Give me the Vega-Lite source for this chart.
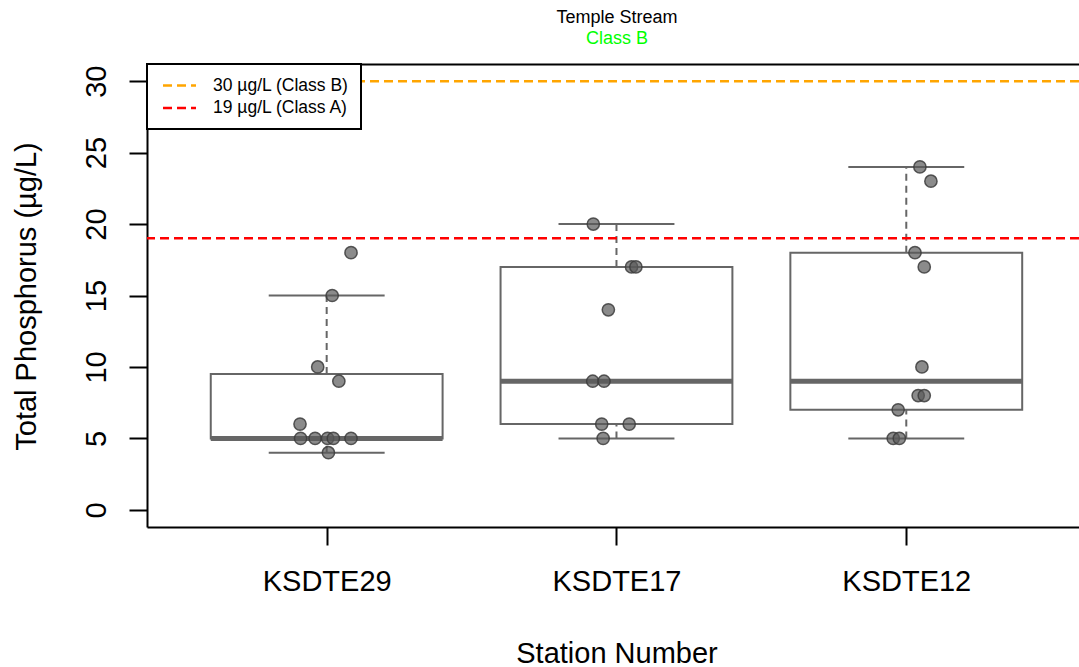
{
  "$schema": "https://vega.github.io/schema/vega-lite/v6.json",
  "width": 932,
  "height": 463,
  "autosize": {"type": "none"},
  "padding": {"left": 147, "top": 64, "right": 0, "bottom": 140},
  "background": "white",
  "config": {
    "view": {"stroke": null},
    "font": "Liberation Sans",
    "axis": {
      "domainColor": "black", "domainWidth": 2, "tickColor": "black", "tickWidth": 2, "tickSize": 18,
      "labelFont": "Liberation Sans", "labelFontSize": 29, "labelColor": "black",
      "titleFont": "Liberation Sans", "titleFontSize": 29, "titleFontWeight": "normal", "titleColor": "black",
      "grid": false
    },
    "legend": {"strokeWidth": 2}
  },
  "title": {
    "text": "Temple Stream", "subtitle": "Class B",
    "font": "Liberation Sans", "subtitleFont": "Liberation Sans",
    "fontSize": 18, "subtitleFontSize": 18, "fontWeight": "normal",
    "color": "black", "subtitleColor": "#00FF00",
    "anchor": "middle", "dx": 4, "offset": 15, "subtitlePadding": 3
  },
  "datasets": {
    "boxes": [
      {"station": "KSDTE29", "pos": 1, "lower": 4, "q1": 5, "median": 5, "q3": 9.5, "upper": 15},
      {"station": "KSDTE17", "pos": 2, "lower": 5, "q1": 6, "median": 9, "q3": 17, "upper": 20},
      {"station": "KSDTE12", "pos": 3, "lower": 5, "q1": 7, "median": 9, "q3": 18, "upper": 24}
    ],
    "points": [
      {"station": "KSDTE29", "jx": 1.084, "value": 18},
      {"station": "KSDTE29", "jx": 1.019, "value": 15},
      {"station": "KSDTE29", "jx": 0.969, "value": 10},
      {"station": "KSDTE29", "jx": 1.042, "value": 9},
      {"station": "KSDTE29", "jx": 0.908, "value": 6},
      {"station": "KSDTE29", "jx": 0.910, "value": 5},
      {"station": "KSDTE29", "jx": 0.960, "value": 5},
      {"station": "KSDTE29", "jx": 1.003, "value": 5},
      {"station": "KSDTE29", "jx": 1.023, "value": 5},
      {"station": "KSDTE29", "jx": 1.084, "value": 5},
      {"station": "KSDTE29", "jx": 1.006, "value": 4},
      {"station": "KSDTE17", "jx": 1.920, "value": 20},
      {"station": "KSDTE17", "jx": 2.052, "value": 17},
      {"station": "KSDTE17", "jx": 2.067, "value": 17},
      {"station": "KSDTE17", "jx": 1.972, "value": 14},
      {"station": "KSDTE17", "jx": 1.918, "value": 9},
      {"station": "KSDTE17", "jx": 1.957, "value": 9},
      {"station": "KSDTE17", "jx": 1.949, "value": 6},
      {"station": "KSDTE17", "jx": 2.044, "value": 6},
      {"station": "KSDTE17", "jx": 1.954, "value": 5},
      {"station": "KSDTE12", "jx": 3.047, "value": 24},
      {"station": "KSDTE12", "jx": 3.085, "value": 23},
      {"station": "KSDTE12", "jx": 3.030, "value": 18},
      {"station": "KSDTE12", "jx": 3.062, "value": 17},
      {"station": "KSDTE12", "jx": 3.054, "value": 10},
      {"station": "KSDTE12", "jx": 3.041, "value": 8},
      {"station": "KSDTE12", "jx": 3.062, "value": 8},
      {"station": "KSDTE12", "jx": 2.972, "value": 7},
      {"station": "KSDTE12", "jx": 2.955, "value": 5},
      {"station": "KSDTE12", "jx": 2.976, "value": 5}
    ],
    "limits": [
      {"value": 30, "label": "30 µg/L (Class B)"},
      {"value": 19, "label": "19 µg/L (Class A)"}
    ]
  },
  "layer": [
    {
      "data": {"name": "boxes"},
      "transform": [
        {"calculate": "datum.pos - 0.4", "as": "lo"},
        {"calculate": "datum.pos + 0.4", "as": "hi"}
      ],
      "mark": {"type": "rect", "fillOpacity": 0, "stroke": "#666666", "strokeWidth": 2},
      "encoding": {
        "x": {
          "field": "lo", "type": "quantitative",
          "scale": {"domain": [0.38, 3.596], "nice": false, "zero": false},
          "axis": {
            "orient": "bottom", "values": [1, 2, 3], "title": "Station Number",
            "labelExpr": "datum.value == 1 ? 'KSDTE29' : datum.value == 2 ? 'KSDTE17' : 'KSDTE12'",
            "labelPadding": 22, "labelFlush": false, "labelOverlap": false,
            "titleX": 469.5, "titleY": 135, "titleAlign": "center", "titleBaseline": "alphabetic"
          }
        },
        "x2": {"field": "hi"},
        "y": {
          "field": "q1", "type": "quantitative",
          "scale": {"domain": [-1.2, 31.2], "nice": false, "zero": false},
          "axis": {
            "values": [0, 5, 10, 15, 20, 25, 30], "title": "Total Phosphorus (µg/L)",
            "labelAngle": 270, "labelAlign": "center", "labelBaseline": "alphabetic", "labelPadding": 24,
            "labelFlush": false, "labelOverlap": false,
            "titleX": -112, "titleY": 232, "titleAngle": 270, "titleAlign": "center", "titleBaseline": "alphabetic"
          }
        },
        "y2": {"field": "q3"}
      }
    },
    {
      "data": {"name": "boxes"},
      "mark": {"type": "rule", "stroke": "#666666", "strokeWidth": 2, "strokeDash": [7, 5]},
      "encoding": {
        "x": {"field": "pos", "type": "quantitative", "axis": null},
        "y": {"field": "q3", "type": "quantitative", "title": "Total Phosphorus (µg/L)"},
        "y2": {"field": "upper"}
      }
    },
    {
      "data": {"name": "boxes"},
      "mark": {"type": "rule", "stroke": "#666666", "strokeWidth": 2, "strokeDash": [7, 5]},
      "encoding": {
        "x": {"field": "pos", "type": "quantitative", "axis": null},
        "y": {"field": "lower", "type": "quantitative", "title": "Total Phosphorus (µg/L)"},
        "y2": {"field": "q1"}
      }
    },
    {
      "data": {"name": "boxes"},
      "transform": [
        {"calculate": "datum.pos - 0.2", "as": "clo"},
        {"calculate": "datum.pos + 0.2", "as": "chi"}
      ],
      "mark": {"type": "rule", "stroke": "#666666", "strokeWidth": 2},
      "encoding": {
        "x": {"field": "clo", "type": "quantitative", "axis": null},
        "x2": {"field": "chi"},
        "y": {"field": "upper", "type": "quantitative", "title": "Total Phosphorus (µg/L)"}
      }
    },
    {
      "data": {"name": "boxes"},
      "transform": [
        {"calculate": "datum.pos - 0.2", "as": "clo"},
        {"calculate": "datum.pos + 0.2", "as": "chi"}
      ],
      "mark": {"type": "rule", "stroke": "#666666", "strokeWidth": 2},
      "encoding": {
        "x": {"field": "clo", "type": "quantitative", "axis": null},
        "x2": {"field": "chi"},
        "y": {"field": "lower", "type": "quantitative", "title": "Total Phosphorus (µg/L)"}
      }
    },
    {
      "data": {"name": "boxes"},
      "transform": [
        {"calculate": "datum.pos - 0.4", "as": "lo"},
        {"calculate": "datum.pos + 0.4", "as": "hi"}
      ],
      "mark": {"type": "rule", "stroke": "#666666", "strokeWidth": 5},
      "encoding": {
        "x": {"field": "lo", "type": "quantitative", "axis": null},
        "x2": {"field": "hi"},
        "y": {"field": "median", "type": "quantitative", "title": "Total Phosphorus (µg/L)"}
      }
    },
    {
      "data": {"name": "limits"},
      "mark": {"type": "rule", "strokeWidth": 2.5, "strokeDash": [9, 5]},
      "encoding": {
        "y": {"field": "value", "type": "quantitative", "title": "Total Phosphorus (µg/L)"},
        "color": {
          "field": "label", "type": "nominal",
          "scale": {"domain": ["30 µg/L (Class B)", "19 µg/L (Class A)"], "range": ["#FFA500", "#FF0000"]},
          "legend": {
            "title": null, "orient": "none", "legendX": 0, "legendY": 0,
            "symbolType": "M-2,0H2", "symbolSize": 272, "symbolStrokeWidth": 2.5, "symbolDash": [9, 5],
            "labelFont": "Liberation Sans", "labelFontSize": 17.5, "labelColor": "black",
            "strokeColor": "black", "fillColor": "white", "padding": 12,
            "symbolOffset": 11, "labelOffset": 24, "rowPadding": 4.5
          }
        }
      }
    },
    {
      "data": {"name": "points"},
      "mark": {"type": "circle", "size": 150, "fill": "#5a5a5a", "fillOpacity": 0.7, "stroke": "#3c3c3c", "strokeOpacity": 0.85, "strokeWidth": 1.5},
      "encoding": {
        "x": {
          "field": "jx", "type": "quantitative",
          "axis": {"orient": "top", "labels": false, "ticks": false, "title": null, "domain": true}
        },
        "y": {"field": "value", "type": "quantitative", "title": "Total Phosphorus (µg/L)"}
      }
    }
  ],
  "resolve": {"axis": {"x": "independent"}}
}
